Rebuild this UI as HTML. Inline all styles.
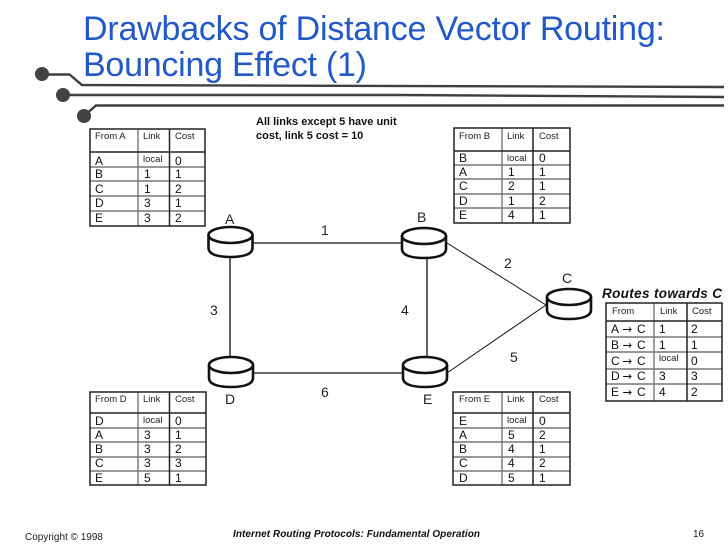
<!DOCTYPE html>
<html><head><meta charset="utf-8"><style>
html,body{margin:0;padding:0;background:#fff}
svg{display:block;font-family:"Liberation Sans",sans-serif}
.h{font-size:9.5px;fill:#222}
.c{font-size:12px;fill:#111}
.l{font-size:9.5px;fill:#222}
.n{font-size:14px;fill:#222}
.a{font-size:11.5px;fill:#111;font-family:"DejaVu Sans",sans-serif}
</style></head><body>
<svg width="728" height="546" viewBox="0 0 728 546" xmlns="http://www.w3.org/2000/svg">
<defs>
<g id="cyl" fill="#fff" stroke="#111" stroke-width="2.6">
<path d="M1 9 V22 C1 27 7 31 23 31 C39 31 45 27 45 22 V9"/>
<ellipse cx="23" cy="9" rx="22" ry="8"/>
</g>
</defs>
<rect width="728" height="546" fill="#fff"/>
<text x="83" y="40" font-size="34" fill="#2358c8" textLength="582">Drawbacks of Distance Vector Routing:</text>
<text x="83" y="76" font-size="34" fill="#2358c8" textLength="284">Bouncing Effect (1)</text>
<g fill="none" stroke="#3f3f42" stroke-width="2.400">
<path d="M42 74.500 H69.500 L82 85 L724 87"/>
<path d="M63 95 H400 L724 97"/>
<path d="M84 116 L96 105.500 H724"/>
</g>
<g fill="#434346"><circle cx="42" cy="74" r="7"/><circle cx="63" cy="95" r="7"/><circle cx="84" cy="116" r="7"/></g>
<text x="256" y="125" font-size="11" font-weight="bold" fill="#111">All links except 5 have unit</text>
<text x="256" y="139" font-size="11" font-weight="bold" fill="#111">cost, link 5 cost = 10</text>

<g stroke="#111" stroke-width="1.3" fill="none">
<path d="M253 243 H401M230 258 V356M427 258 V356M253 373 H402"/>
<path stroke-width="1" d="M447 243 L546 305 L447 373"/>
</g>
<use href="#cyl" x="207.500" y="226"/>
<use href="#cyl" x="401" y="227"/>
<use href="#cyl" x="546" y="288"/>
<use href="#cyl" x="208" y="356"/>
<use href="#cyl" x="402" y="356"/>
<g class="n">
<text class="n" x="225" y="224">A</text><text class="n" x="417" y="222">B</text><text class="n" x="562" y="283">C</text>
<text class="n" x="225" y="404">D</text><text class="n" x="423" y="404">E</text>
<text class="n" x="321" y="235">1</text><text class="n" x="504" y="268">2</text><text class="n" x="210" y="315">3</text>
<text class="n" x="401" y="315">4</text><text class="n" x="510" y="362">5</text><text class="n" x="321" y="397">6</text>
</g>

<!-- Table A -->
<g stroke="#777" stroke-width="1.4"><path d="M90 167H205M90 181H205M90 196H205M90 211H205M138 129V226"/></g>
<g stroke="#222" stroke-width="1.5" fill="none"><rect x="90" y="129" width="115" height="97"/><path d="M90 152H205M169.500 129V226"/></g>
<g>
<text class="h" x="95" y="139">From A</text><text class="h" x="143" y="139">Link</text><text class="h" x="175" y="139">Cost</text>
<text class="c" x="95" y="165">A</text><text class="l" x="143" y="162">local</text><text class="c" x="175" y="165">0</text>
<text class="c" x="95" y="178">B</text><text class="c" x="144" y="178">1</text><text class="c" x="175" y="178">1</text>
<text class="c" x="95" y="193">C</text><text class="c" x="144" y="193">1</text><text class="c" x="175" y="193">2</text>
<text class="c" x="95" y="207">D</text><text class="c" x="144" y="207">3</text><text class="c" x="175" y="207">1</text>
<text class="c" x="95" y="222">E</text><text class="c" x="144" y="222">3</text><text class="c" x="175" y="222">2</text>
</g>

<!-- Table B -->
<g stroke="#777" stroke-width="1.4"><path d="M454 165H570M454 179H570M454 194H570M454 208H570M502 128V223"/></g>
<g stroke="#222" stroke-width="1.5" fill="none"><rect x="454" y="128" width="116" height="95"/><path d="M454 151H570M533 128V223"/></g>
<g>
<text class="h" x="459" y="139">From B</text><text class="h" x="507" y="139">Link</text><text class="h" x="539" y="139">Cost</text>
<text class="c" x="459" y="162">B</text><text class="l" x="507" y="161">local</text><text class="c" x="539" y="162">0</text>
<text class="c" x="459" y="176">A</text><text class="c" x="508" y="176">1</text><text class="c" x="539" y="176">1</text>
<text class="c" x="459" y="190">C</text><text class="c" x="508" y="190">2</text><text class="c" x="539" y="190">1</text>
<text class="c" x="459" y="205">D</text><text class="c" x="508" y="205">1</text><text class="c" x="539" y="205">2</text>
<text class="c" x="459" y="219">E</text><text class="c" x="508" y="219">4</text><text class="c" x="539" y="219">1</text>
</g>

<!-- Table D -->
<g stroke="#777" stroke-width="1.4"><path d="M90 428H206M90 442H206M90 457H206M90 471H206M138 392V485"/></g>
<g stroke="#222" stroke-width="1.5" fill="none"><rect x="90" y="392" width="116" height="93"/><path d="M90 413H206M169.500 392V485"/></g>
<g>
<text class="h" x="95" y="402">From D</text><text class="h" x="143" y="402">Link</text><text class="h" x="175" y="402">Cost</text>
<text class="c" x="95" y="425">D</text><text class="l" x="143" y="423">local</text><text class="c" x="175" y="425">0</text>
<text class="c" x="95" y="439">A</text><text class="c" x="144" y="439">3</text><text class="c" x="175" y="439">1</text>
<text class="c" x="95" y="453">B</text><text class="c" x="144" y="453">3</text><text class="c" x="175" y="453">2</text>
<text class="c" x="95" y="467">C</text><text class="c" x="144" y="467">3</text><text class="c" x="175" y="467">3</text>
<text class="c" x="95" y="482">E</text><text class="c" x="144" y="482">5</text><text class="c" x="175" y="482">1</text>
</g>

<!-- Table E -->
<g stroke="#777" stroke-width="1.4"><path d="M453 428H570M453 442H570M453 457H570M453 471H570M502 392V485"/></g>
<g stroke="#222" stroke-width="1.5" fill="none"><rect x="453" y="392" width="117" height="93"/><path d="M453 413H570M533 392V485"/></g>
<g>
<text class="h" x="459" y="402">From E</text><text class="h" x="507" y="402">Link</text><text class="h" x="539" y="402">Cost</text>
<text class="c" x="459" y="425">E</text><text class="l" x="507" y="423">local</text><text class="c" x="539" y="425">0</text>
<text class="c" x="459" y="439">A</text><text class="c" x="508" y="439">5</text><text class="c" x="539" y="439">2</text>
<text class="c" x="459" y="453">B</text><text class="c" x="508" y="453">4</text><text class="c" x="539" y="453">1</text>
<text class="c" x="459" y="467">C</text><text class="c" x="508" y="467">4</text><text class="c" x="539" y="467">2</text>
<text class="c" x="459" y="482">D</text><text class="c" x="508" y="482">5</text><text class="c" x="539" y="482">1</text>
</g>

<!-- Routes table -->
<text x="602" y="298" font-size="13.500" font-weight="bold" font-style="italic" fill="#111" textLength="120">Routes towards C</text>
<g stroke="#777" stroke-width="1.4"><path d="M606 337H722M606 352H722M606 369H722M606 384H722M654 303V401"/></g>
<g stroke="#222" stroke-width="1.5" fill="none"><rect x="606" y="303" width="116" height="98"/><path d="M606 321H722M687 303V401"/></g>
<g>
<text class="h" x="612" y="314">From</text><text class="h" x="660" y="314">Link</text><text class="h" x="692" y="314">Cost</text>
<text class="c" x="611" y="333">A</text><text class="a" x="622.500" y="333">→</text><text class="c" x="637" y="333">C</text><text class="c" x="659" y="333">1</text><text class="c" x="691" y="333">2</text>
<text class="c" x="611" y="349">B</text><text class="a" x="622.500" y="349">→</text><text class="c" x="637" y="349">C</text><text class="c" x="659" y="349">1</text><text class="c" x="691" y="349">1</text>
<text class="c" x="611" y="365">C</text><text class="a" x="622.500" y="365">→</text><text class="c" x="637" y="365">C</text><text class="l" x="659" y="361">local</text><text class="c" x="691" y="365">0</text>
<text class="c" x="611" y="380">D</text><text class="a" x="622.500" y="380">→</text><text class="c" x="637" y="380">C</text><text class="c" x="659" y="380">3</text><text class="c" x="691" y="380">3</text>
<text class="c" x="611" y="396">E</text><text class="a" x="622.500" y="396">→</text><text class="c" x="637" y="396">C</text><text class="c" x="659" y="396">4</text><text class="c" x="691" y="396">2</text>
</g>

<text x="25" y="540" font-size="10" fill="#222">Copyright © 1998</text>
<text x="233" y="537" font-size="10" font-weight="bold" font-style="italic" fill="#111" textLength="247">Internet Routing Protocols: Fundamental Operation</text>
<text x="693" y="537" font-size="10" fill="#222">16</text>
</svg>
</body></html>
